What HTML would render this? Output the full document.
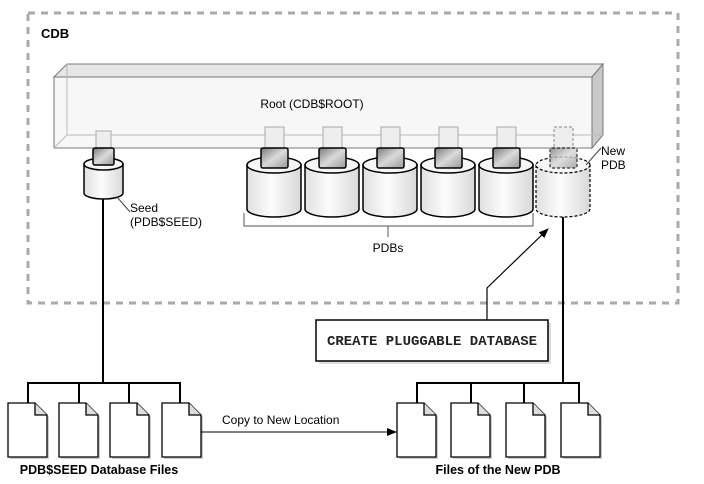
<!DOCTYPE html>
<html><head><meta charset="utf-8"><style>
html,body{margin:0;padding:0;background:#fff;}
svg{display:block;font-family:"Liberation Sans",sans-serif;}
</style></head><body>
<svg width="704" height="484" viewBox="0 0 704 484" xmlns="http://www.w3.org/2000/svg">
<defs>
<linearGradient id="cyl" x1="0" x2="1" y1="0" y2="0">
<stop offset="0" stop-color="#e0e0e0"/><stop offset="0.45" stop-color="#fcfcfc"/><stop offset="1" stop-color="#d8d8d8"/>
</linearGradient>
<linearGradient id="plug" x1="0" x2="1" y1="0" y2="1">
<stop offset="0" stop-color="#7a7a7a"/><stop offset="0.5" stop-color="#dadada"/><stop offset="1" stop-color="#999"/>
</linearGradient>
<marker id="ah" markerWidth="10" markerHeight="8" refX="9" refY="4" orient="auto" markerUnits="userSpaceOnUse">
<path d="M0,0 L10,4 L0,8 Z" fill="#000"/></marker>
</defs>
<rect x="28" y="13" width="650" height="290" fill="none" stroke="#aaa" stroke-width="3" stroke-dasharray="7,6"/>
<text x="41" y="38" font-size="13" font-weight="bold">CDB</text>

<polygon points="54,77 67,64 603,64 592,77" fill="#e6e6e6" stroke="#777" stroke-width="1"/>
<polygon points="592,77 603,64 603,135 592,148" fill="#c8c8c8" stroke="#777" stroke-width="1"/>
<rect x="54" y="77" width="538" height="71" fill="#f7f7f7" stroke="#777" stroke-width="1"/>
<line x1="67" y1="64" x2="67" y2="135" stroke="#bbb"/>
<line x1="67" y1="135" x2="603" y2="135" stroke="#bbb"/>
<line x1="54" y1="148" x2="67" y2="135" stroke="#bbb"/>
<text x="312" y="108" font-size="12" text-anchor="middle">Root (CDB$ROOT)</text>

<g>
<rect x="96" y="131" width="15" height="17" fill="#eee" stroke="#aaa"/>
<path d="M84,164 L84,193 A19.5,6 0 0 0 123,193 L123,164 Z" fill="url(#cyl)" stroke="#000" stroke-width="1.5"/>
<ellipse cx="103.5" cy="164" rx="19.5" ry="6" fill="#f6f6f6" stroke="#000" stroke-width="1.5"/>
<rect x="93" y="148" width="21" height="17" rx="2" fill="url(#plug)" stroke="#000" stroke-width="1.5"/>
</g>
<line x1="117" y1="197" x2="130" y2="212" stroke="#444"/>
<text x="130" y="212" font-size="12">Seed</text>
<text x="130" y="226" font-size="12">(PDB$SEED)</text>

<g>
<g transform="translate(274,0)">
<rect x="-9" y="127" width="19" height="21" fill="#eee" stroke="#aaa"/>
<path d="M-27,165 L-27,209 A27,8 0 0 0 27,209 L27,165 Z" fill="url(#cyl)" stroke="#000" stroke-width="1.5"/>
<ellipse cx="0" cy="165" rx="27" ry="8" fill="#f6f6f6" stroke="#000" stroke-width="1.5"/>
<rect x="-13" y="148" width="27" height="20" rx="2" fill="url(#plug)" stroke="#000" stroke-width="1.5"/>
</g>
<g transform="translate(332,0)">
<rect x="-9" y="127" width="19" height="21" fill="#eee" stroke="#aaa"/>
<path d="M-27,165 L-27,209 A27,8 0 0 0 27,209 L27,165 Z" fill="url(#cyl)" stroke="#000" stroke-width="1.5"/>
<ellipse cx="0" cy="165" rx="27" ry="8" fill="#f6f6f6" stroke="#000" stroke-width="1.5"/>
<rect x="-13" y="148" width="27" height="20" rx="2" fill="url(#plug)" stroke="#000" stroke-width="1.5"/>
</g>
<g transform="translate(390,0)">
<rect x="-9" y="127" width="19" height="21" fill="#eee" stroke="#aaa"/>
<path d="M-27,165 L-27,209 A27,8 0 0 0 27,209 L27,165 Z" fill="url(#cyl)" stroke="#000" stroke-width="1.5"/>
<ellipse cx="0" cy="165" rx="27" ry="8" fill="#f6f6f6" stroke="#000" stroke-width="1.5"/>
<rect x="-13" y="148" width="27" height="20" rx="2" fill="url(#plug)" stroke="#000" stroke-width="1.5"/>
</g>
<g transform="translate(448,0)">
<rect x="-9" y="127" width="19" height="21" fill="#eee" stroke="#aaa"/>
<path d="M-27,165 L-27,209 A27,8 0 0 0 27,209 L27,165 Z" fill="url(#cyl)" stroke="#000" stroke-width="1.5"/>
<ellipse cx="0" cy="165" rx="27" ry="8" fill="#f6f6f6" stroke="#000" stroke-width="1.5"/>
<rect x="-13" y="148" width="27" height="20" rx="2" fill="url(#plug)" stroke="#000" stroke-width="1.5"/>
</g>
<g transform="translate(506,0)">
<rect x="-9" y="127" width="19" height="21" fill="#eee" stroke="#aaa"/>
<path d="M-27,165 L-27,209 A27,8 0 0 0 27,209 L27,165 Z" fill="url(#cyl)" stroke="#000" stroke-width="1.5"/>
<ellipse cx="0" cy="165" rx="27" ry="8" fill="#f6f6f6" stroke="#000" stroke-width="1.5"/>
<rect x="-13" y="148" width="27" height="20" rx="2" fill="url(#plug)" stroke="#000" stroke-width="1.5"/>
</g>
<g transform="translate(563,0)">
<rect x="-9" y="127" width="19" height="21" fill="#eee" stroke="#888" stroke-dasharray="3,2"/>
<path d="M-27,165 L-27,209 A27,8 0 0 0 27,209 L27,165 Z" fill="url(#cyl)" stroke="#000" stroke-width="1.2" stroke-dasharray="3,2"/>
<ellipse cx="0" cy="165" rx="27" ry="8" fill="#f6f6f6" stroke="#000" stroke-width="1.2" stroke-dasharray="3,2"/>
<rect x="-13" y="148" width="27" height="20" rx="2" fill="url(#plug)" stroke="#000" stroke-width="1.2" stroke-dasharray="3,2" opacity="0.8"/>
</g>
</g>
<line x1="586" y1="165" x2="601" y2="148" stroke="#444"/>
<text x="601" y="155" font-size="12">New</text>
<text x="601" y="169" font-size="12">PDB</text>

<path d="M244,213 L244,226 L533,226 L533,213" fill="none" stroke="#555"/>
<line x1="388" y1="226" x2="388" y2="237" stroke="#555"/>
<text x="388" y="252" font-size="12" text-anchor="middle">PDBs</text>

<rect x="319" y="323" width="232" height="41" fill="#ddd"/>
<rect x="316" y="320" width="232" height="41" fill="#fff" stroke="#000" stroke-width="1.5"/>
<text x="432" y="345" font-family="'Liberation Mono',monospace" font-weight="bold" font-size="14" text-anchor="middle" fill="#222">CREATE PLUGGABLE DATABASE</text>
<path d="M487,320 L487,288 L548,229" fill="none" stroke="#000" stroke-width="1.2" marker-end="url(#ah)"/>

<line x1="103" y1="199" x2="103" y2="383" stroke="#000" stroke-width="2"/>
<path d="M28,403 L28,383 L180,383 L180,403 M79,383 L79,403 M129,383 L129,403" fill="none" stroke="#000" stroke-width="2"/>
<line x1="563" y1="217" x2="563" y2="383" stroke="#000" stroke-width="2"/>
<path d="M417,403 L417,383 L579,383 L579,403 M471,383 L471,403 M524,383 L524,403" fill="none" stroke="#000" stroke-width="2"/>

<g stroke="#000" stroke-width="1.3">
<g transform="translate(8,403)"><path d="M2,2 L29,2 L41,14 L41,56 L2,56 Z" fill="#ccc" stroke="none"/><path d="M0,0 L27,0 L39,12 L39,54 L0,54 Z" fill="#fff"/><path d="M27,0 L27,12 L39,12" fill="#ddd"/></g>
<g transform="translate(59,403)"><path d="M2,2 L29,2 L41,14 L41,56 L2,56 Z" fill="#ccc" stroke="none"/><path d="M0,0 L27,0 L39,12 L39,54 L0,54 Z" fill="#fff"/><path d="M27,0 L27,12 L39,12" fill="#ddd"/></g>
<g transform="translate(110,403)"><path d="M2,2 L29,2 L41,14 L41,56 L2,56 Z" fill="#ccc" stroke="none"/><path d="M0,0 L27,0 L39,12 L39,54 L0,54 Z" fill="#fff"/><path d="M27,0 L27,12 L39,12" fill="#ddd"/></g>
<g transform="translate(162,403)"><path d="M2,2 L29,2 L41,14 L41,56 L2,56 Z" fill="#ccc" stroke="none"/><path d="M0,0 L27,0 L39,12 L39,54 L0,54 Z" fill="#fff"/><path d="M27,0 L27,12 L39,12" fill="#ddd"/></g>
<g transform="translate(397,403)"><path d="M2,2 L29,2 L41,14 L41,56 L2,56 Z" fill="#ccc" stroke="none"/><path d="M0,0 L27,0 L39,12 L39,54 L0,54 Z" fill="#fff"/><path d="M27,0 L27,12 L39,12" fill="#ddd"/></g>
<g transform="translate(451,403)"><path d="M2,2 L29,2 L41,14 L41,56 L2,56 Z" fill="#ccc" stroke="none"/><path d="M0,0 L27,0 L39,12 L39,54 L0,54 Z" fill="#fff"/><path d="M27,0 L27,12 L39,12" fill="#ddd"/></g>
<g transform="translate(506,403)"><path d="M2,2 L29,2 L41,14 L41,56 L2,56 Z" fill="#ccc" stroke="none"/><path d="M0,0 L27,0 L39,12 L39,54 L0,54 Z" fill="#fff"/><path d="M27,0 L27,12 L39,12" fill="#ddd"/></g>
<g transform="translate(561,403)"><path d="M2,2 L29,2 L41,14 L41,56 L2,56 Z" fill="#ccc" stroke="none"/><path d="M0,0 L27,0 L39,12 L39,54 L0,54 Z" fill="#fff"/><path d="M27,0 L27,12 L39,12" fill="#ddd"/></g>
</g>

<line x1="201" y1="432" x2="396" y2="432" stroke="#000" stroke-width="1" marker-end="url(#ah)"/>
<text x="222" y="424" font-size="12">Copy to New Location</text>

<text x="99" y="474" font-size="12.5" font-weight="bold" text-anchor="middle">PDB$SEED Database Files</text>
<text x="498" y="474" font-size="12.5" font-weight="bold" text-anchor="middle">Files of the New PDB</text>
</svg>
</body></html>
